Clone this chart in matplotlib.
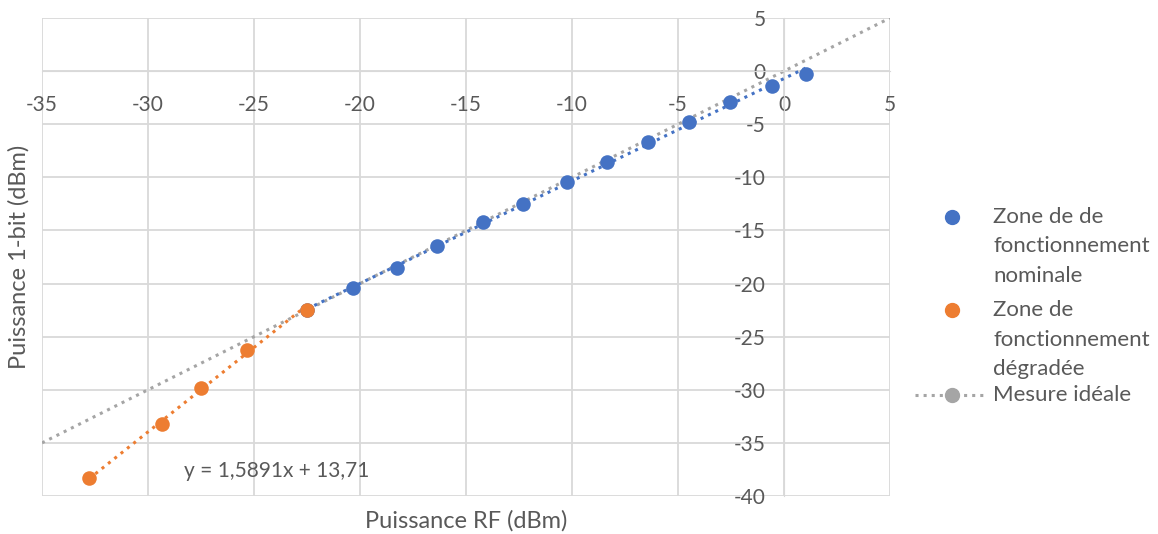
import numpy as np
import matplotlib
matplotlib.use('Agg')
from matplotlib import pyplot as plt
from matplotlib.lines import Line2D

# data
rf_nominal = [1.05, -0.57, -2.55, -4.48, -6.42, -8.35, -10.24, -12.31, -14.2, -16.37, -18.25, -20.33, -22.5]
pw_nominal = [-0.25, -1.41, -2.92, -4.8, -6.69, -8.57, -10.45, -12.52, -14.22, -16.48, -18.55, -20.43, -22.5]
rf_degraded = [-22.5, -25.33, -27.5, -29.34, -32.78]
pw_degraded = [-22.5, -26.27, -29.85, -33.24, -38.32]
ideal = [-35, 5]
slope_deg, icpt_deg = 1.5891, 13.71

BLUE = '#4472c4'
ORANGE = '#ed7d31'
GRAY = '#a5a5a5'
TXT = '#595959'
GRID = '#d9d9d9'

W, H = 1158, 534

plt.rcParams['font.family'] = ['Lato', 'DejaVu Sans']
plt.rcParams['font.size'] = 15
plt.rcParams['axes.unicode_minus'] = False

fig = plt.figure(figsize=(W/100, H/100), dpi=100)
ax = fig.add_axes([42/W, 1-496/H, 848/W, 478/H])

# trendlines + ideal line
ax.plot(ideal, ideal, ':', color=GRAY, lw=2.2, zorder=2)
p = np.polyfit(rf_nominal, pw_nominal, 1)
xn = np.array([min(rf_nominal), max(rf_nominal)])
ax.plot(xn, np.polyval(p, xn), ':', color=BLUE, lw=2.2, zorder=3)
xd = np.array([min(rf_degraded), max(rf_degraded)])
ax.plot(xd, slope_deg*xd + icpt_deg, ':', color=ORANGE, lw=2.2, zorder=3)

ax.scatter(rf_nominal, pw_nominal, s=110, color=BLUE, zorder=4, linewidths=0)
ax.scatter(rf_degraded, pw_degraded, s=110, color=ORANGE, zorder=4, linewidths=0)

ax.set_xlim(-35, 5)
ax.set_ylim(-40, 5)
ax.set_xticks(range(-35, 6, 5))
ax.set_yticks(range(-40, 6, 5))
ax.grid(True, color=GRID, lw=1.3, zorder=0)
ax.set_axisbelow(True)

for s in ['top', 'right']:
    ax.spines[s].set_visible(False)
ax.spines['bottom'].set_position(('data', 0))
ax.spines['left'].set_position(('data', 0))
ax.spines['bottom'].set_color(GRID)
ax.spines['left'].set_color(GRID)
ax.tick_params(length=0, colors=TXT, labelsize=15)
ax.tick_params(axis='x', pad=17)
ax.tick_params(axis='y', pad=13)

fig.text(466/W, 1-521/H, 'Puissance RF (dBm)', ha='center', va='center', color=TXT, fontsize=17)
fig.text(19/W, 1-257/H, 'Puissance 1-bit (dBm)', ha='center', va='center', rotation=90, color=TXT, fontsize=17)

ax.text(-28.3, -37.6, 'y = 1,5891x + 13,71', color=TXT, fontsize=15, va='center', ha='left')

# legend, Excel style: marker level with the first line of each label
labels = ['Zone de de\nfonctionnement\nnominale', 'Zone de\nfonctionnement\ndégradée', 'Mesure idéale']
colors = [BLUE, ORANGE, GRAY]
tops = [217, 310, 395]
for lab, col, y0 in zip(labels, colors, tops):
    yf = 1 - y0/H
    if col == GRAY:
        fig.add_artist(Line2D([915/W, 986/W], [yf, yf], ls=':', lw=2.2, color=col))
    fig.add_artist(Line2D([952/W], [yf], ls='none', marker='o', ms=10, color=col))
    for i, line in enumerate(lab.split('\n')):
        fig.text(993/W, 1 - (y0 + i*29.5)/H, line, ha='left', va='center', color=TXT, fontsize=16)

fig.savefig('out.png', dpi=100)
